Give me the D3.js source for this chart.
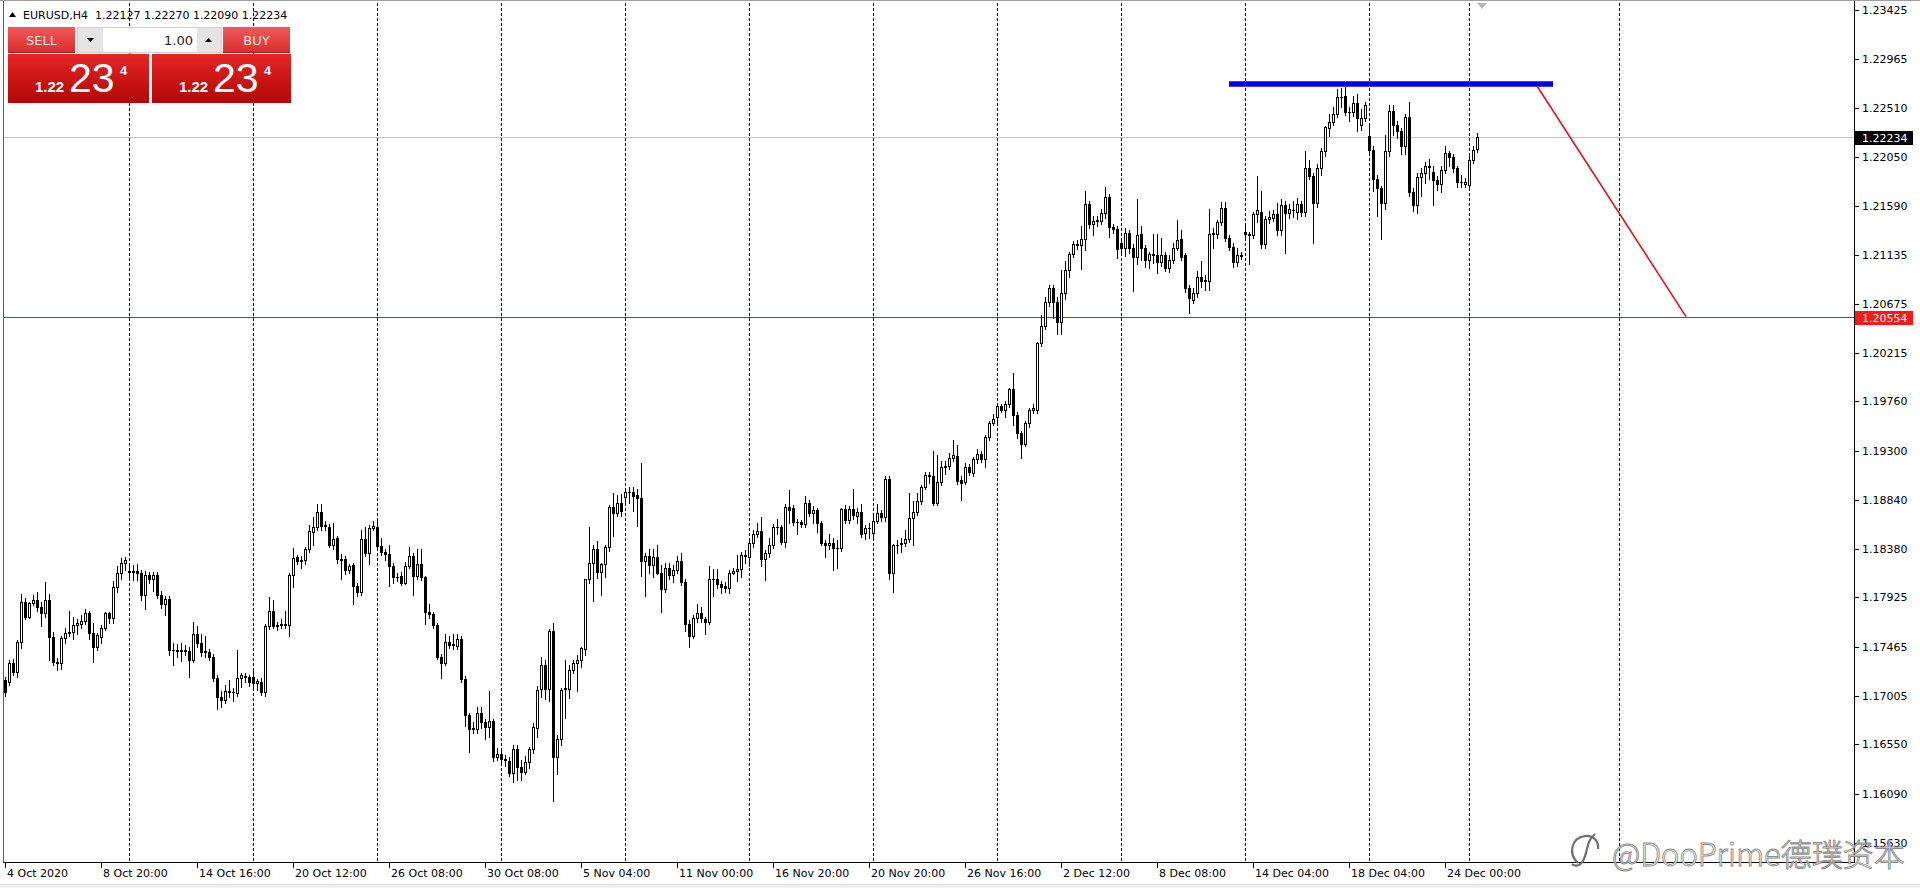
<!DOCTYPE html>
<html><head><meta charset="utf-8">
<script src="https://cdn.jsdelivr.net/npm/d3@7"></script>
<style>
html,body{margin:0;padding:0;background:#fff;overflow:hidden}
svg{display:block}
</style></head><body>
<svg id="c" width="1920" height="888"></svg>
<script>
// ---------------- data ----------------
const symbolTitle = "EURUSD,H4";
const titleOHLC = ["1.22127", "1.22270", "1.22090", "1.22234"];
const priceTicks = [1.23425,1.22965,1.22510,1.22050,1.21590,1.21135,1.20675,1.20215,1.19760,1.19300,1.18840,1.18380,1.17925,1.17465,1.17005,1.16550,1.16090,1.15630];
const xLabels = ["4 Oct 2020","8 Oct 20:00","14 Oct 16:00","20 Oct 12:00","26 Oct 08:00","30 Oct 08:00","5 Nov 04:00","11 Nov 00:00","16 Nov 20:00","20 Nov 20:00","26 Nov 16:00","2 Dec 12:00","8 Dec 08:00","14 Dec 04:00","18 Dec 04:00","24 Dec 00:00"];
const xLabelBars = [0,24,48,72,96,120,144,168,192,216,240,264,288,312,336,360];
const weekStartBars = [31,62,93,124,155,186,217,248,279,310,341,366,403.5];
const bidPrice = 1.22234;
const levelPrice = 1.20554;
const resistanceLine = [[306,1.22731],[387,1.22731]];
const projectionLine = [[383,1.22712],[420.25,1.20554]];
const panelPrice = {big:"1.22", pips:"23", frac:"4", volume:"1.00"};
const watermark = "@DooPrime德璞资本";

// [open, high, low, close] per H4 bar
const ohlc = [
[1.17152,1.17180,1.17000,1.17043],[1.17136,1.17340,1.17110,1.17308],[1.17308,1.17350,1.17200,1.17230],[1.17230,1.17530,1.17180,1.17511],
[1.17511,1.17960,1.17450,1.17885],[1.17885,1.17920,1.17720,1.17745],[1.17745,1.17880,1.17730,1.17869],[1.17869,1.17950,1.17850,1.17901],
[1.17901,1.17980,1.17800,1.17838],[1.17838,1.17880,1.17660,1.17776],[1.17776,1.18070,1.17740,1.17901],[1.17901,1.17960,1.17339,1.17557],
[1.17557,1.17600,1.17290,1.17323],[1.17323,1.17360,1.17245,1.17308],[1.17308,1.17560,1.17260,1.17542],[1.17542,1.17640,1.17500,1.17589],
[1.17589,1.17800,1.17560,1.17604],[1.17604,1.17740,1.17540,1.17667],[1.17670,1.17720,1.17580,1.17690],[1.17672,1.17760,1.17640,1.17704],
[1.17704,1.17820,1.17680,1.17776],[1.17776,1.17800,1.17540,1.17589],[1.17589,1.17690,1.17323,1.17464],[1.17464,1.17590,1.17430,1.17573],
[1.17557,1.17670,1.17500,1.17635],[1.17635,1.17790,1.17620,1.17776],[1.17776,1.17790,1.17690,1.17729],[1.17729,1.18080,1.17690,1.18025],
[1.18025,1.18220,1.17980,1.18150],[1.18150,1.18290,1.18100,1.18244],[1.18244,1.18300,1.18180,1.18275],[1.18160,1.18220,1.18100,1.18172],
[1.18172,1.18230,1.18090,1.18166],[1.18172,1.18240,1.18090,1.18150],[1.18150,1.18180,1.17900,1.17947],[1.17947,1.18170,1.17820,1.18135],
[1.18135,1.18160,1.18060,1.18094],[1.18094,1.18160,1.17990,1.18135],[1.18135,1.18160,1.17920,1.17947],[1.17947,1.17990,1.17830,1.17863],
[1.17863,1.17940,1.17760,1.17907],[1.17907,1.17940,1.17390,1.17433],[1.17433,1.17500,1.17290,1.17430],[1.17430,1.17490,1.17370,1.17426],
[1.17426,1.17500,1.17330,1.17430],[1.17430,1.17480,1.17390,1.17426],[1.17426,1.17460,1.17180,1.17339],[1.17339,1.17700,1.17320,1.17582],
[1.17582,1.17660,1.17460,1.17495],[1.17495,1.17580,1.17380,1.17417],[1.17426,1.17560,1.17370,1.17417],[1.17417,1.17440,1.17340,1.17370],
[1.17370,1.17400,1.17140,1.17167],[1.17167,1.17200,1.16880,1.16990],[1.16990,1.17050,1.16900,1.16965],[1.16965,1.17110,1.16940,1.17052],
[1.17052,1.17150,1.16990,1.17043],[1.17043,1.17080,1.16960,1.17036],[1.17027,1.17430,1.17000,1.17167],[1.17167,1.17220,1.17090,1.17199],
[1.17189,1.17220,1.17130,1.17177],[1.17177,1.17200,1.17100,1.17136],[1.17177,1.17240,1.17080,1.17121],[1.17121,1.17160,1.17060,1.17142],
[1.17136,1.17170,1.17010,1.17036],[1.17036,1.17680,1.17000,1.17657],[1.17657,1.17930,1.17630,1.17801],[1.17801,1.17900,1.17640,1.17660],
[1.17660,1.17700,1.17620,1.17667],[1.17667,1.17720,1.17640,1.17676],[1.17676,1.17800,1.17640,1.17667],[1.17667,1.18150,1.17560,1.18135],
[1.18135,1.18390,1.18020,1.18291],[1.18300,1.18320,1.18240,1.18269],[1.18269,1.18310,1.18200,1.18275],[1.18275,1.18400,1.18240,1.18375],
[1.18375,1.18600,1.18350,1.18546],[1.18540,1.18680,1.18420,1.18587],[1.18587,1.18800,1.18560,1.18721],[1.18721,1.18800,1.18560,1.18596],
[1.18596,1.18640,1.18560,1.18600],[1.18587,1.18610,1.18400,1.18415],[1.18415,1.18620,1.18380,1.18472],[1.18478,1.18500,1.18250,1.18281],
[1.18281,1.18330,1.18100,1.18275],[1.18284,1.18310,1.18140,1.18181],[1.18181,1.18240,1.18150,1.18219],[1.18228,1.18250,1.17860,1.18032],
[1.18032,1.18060,1.17940,1.17979],[1.17979,1.18560,1.17950,1.18468],[1.18468,1.18580,1.18310,1.18344],[1.18344,1.18600,1.18240,1.18571],
[1.18578,1.18640,1.18560,1.18593],[1.18582,1.18650,1.18380,1.18407],[1.18407,1.18480,1.18320,1.18354],[1.18354,1.18380,1.18280,1.18329],
[1.18329,1.18420,1.18030,1.18220],[1.18220,1.18250,1.18060,1.18114],[1.18114,1.18150,1.18080,1.18120],[1.18126,1.18160,1.18040,1.18064],
[1.18064,1.18260,1.18050,1.18220],[1.18220,1.18400,1.18200,1.18313],[1.18313,1.18340,1.17950,1.18126],[1.18126,1.18380,1.18100,1.18238],
[1.18238,1.18380,1.18090,1.18114],[1.18114,1.18130,1.17680,1.17792],[1.17792,1.17860,1.17730,1.17770],[1.17770,1.17790,1.17640,1.17667],
[1.17667,1.17690,1.17350,1.17371],[1.17371,1.17400,1.17170,1.17315],[1.17315,1.17580,1.17290,1.17511],[1.17511,1.17560,1.17450,1.17480],
[1.17480,1.17580,1.17440,1.17485],[1.17471,1.17580,1.17440,1.17533],[1.17533,1.17560,1.17130,1.17159],[1.17159,1.17190,1.16720,1.16825],
[1.16825,1.16840,1.16480,1.16691],[1.16691,1.16760,1.16660,1.16700],[1.16691,1.16900,1.16660,1.16847],[1.16847,1.16900,1.16700,1.16763],
[1.16763,1.16790,1.16600,1.16716],[1.16716,1.17050,1.16620,1.16769],[1.16769,1.16790,1.16390,1.16429],[1.16429,1.16520,1.16400,1.16460],
[1.16460,1.16500,1.16370,1.16410],[1.16410,1.16450,1.16350,1.16405],[1.16398,1.16430,1.16250,1.16285],[1.16285,1.16540,1.16200,1.16504],
[1.16504,1.16540,1.16220,1.16341],[1.16341,1.16400,1.16220,1.16295],[1.16295,1.16440,1.16270,1.16388],[1.16388,1.16530,1.16330,1.16504],
[1.16504,1.16750,1.16470,1.16710],[1.16700,1.17100,1.16620,1.17059],[1.17065,1.17370,1.16990,1.17290],[1.17290,1.17340,1.16970,1.17065],
[1.17065,1.17630,1.16960,1.17614],[1.17614,1.17689,1.16020,1.16429],[1.16429,1.16640,1.16270,1.16597],[1.16597,1.17080,1.16540,1.17059],
[1.17065,1.17340,1.16800,1.17075],[1.17065,1.17290,1.16980,1.17246],[1.17246,1.17340,1.17220,1.17315],[1.17315,1.17390,1.17050,1.17340],
[1.17340,1.17460,1.17270,1.17449],[1.17440,1.18100,1.17390,1.18095],[1.18095,1.18580,1.18060,1.18245],[1.18245,1.18420,1.17890,1.18382],
[1.18382,1.18450,1.18110,1.18160],[1.18160,1.18250,1.17950,1.18238],[1.18238,1.18420,1.18120,1.18394],[1.18394,1.18790,1.18360,1.18769],
[1.18769,1.18900,1.18500,1.18719],[1.18719,1.18880,1.18690,1.18806],[1.18806,1.18890,1.18690,1.18738],[1.18869,1.18950,1.18800,1.18915],
[1.18915,1.18960,1.18810,1.18912],[1.18915,1.18960,1.18730,1.18875],[1.18884,1.18940,1.18590,1.18853],[1.18853,1.19187,1.18130,1.18270],
[1.18270,1.18340,1.17940,1.18313],[1.18313,1.18380,1.18150,1.18229],[1.18229,1.18380,1.18120,1.18307],[1.18307,1.18420,1.18140,1.18157],
[1.18157,1.18230,1.17790,1.18001],[1.18001,1.18250,1.17980,1.18198],[1.18198,1.18250,1.18100,1.18132],[1.18132,1.18230,1.18070,1.18182],
[1.18182,1.18310,1.18150,1.18270],[1.18270,1.18340,1.18040,1.18073],[1.18073,1.18100,1.17610,1.17674],[1.17674,1.17710,1.17460,1.17568],
[1.17568,1.17760,1.17550,1.17730],[1.17730,1.17860,1.17700,1.17783],[1.17783,1.17840,1.17700,1.17730],[1.17720,1.17740,1.17580,1.17699],
[1.17699,1.18220,1.17680,1.18095],[1.18095,1.18190,1.17940,1.18100],[1.18095,1.18190,1.18010,1.18051],[1.18051,1.18080,1.17970,1.18026],
[1.18032,1.18070,1.17980,1.18011],[1.18011,1.18180,1.17970,1.18157],[1.18157,1.18200,1.18140,1.18173],[1.18173,1.18320,1.18080,1.18188],
[1.18188,1.18350,1.18120,1.18319],[1.18319,1.18370,1.18250,1.18313],[1.18306,1.18470,1.18220,1.18437],[1.18437,1.18560,1.18400,1.18519],
[1.18519,1.18620,1.18490,1.18550],[1.18550,1.18680,1.18220,1.18281],[1.18281,1.18370,1.18090,1.18344],[1.18338,1.18480,1.18300,1.18416],
[1.18416,1.18610,1.18390,1.18581],[1.18581,1.18660,1.18520,1.18587],[1.18587,1.18600,1.18430,1.18447],[1.18447,1.18800,1.18400,1.18768],
[1.18768,1.18930,1.18620,1.18743],[1.18759,1.18790,1.18600,1.18634],[1.18634,1.18660,1.18520,1.18630],[1.18634,1.18650,1.18580,1.18612],
[1.18612,1.18870,1.18580,1.18812],[1.18812,1.18840,1.18690,1.18712],[1.18712,1.18780,1.18620,1.18743],[1.18743,1.18760,1.18540,1.18618],
[1.18618,1.18640,1.18420,1.18437],[1.18437,1.18460,1.18300,1.18416],[1.18416,1.18520,1.18380,1.18431],[1.18437,1.18480,1.18180,1.18384],
[1.18384,1.18460,1.18200,1.18390],[1.18384,1.18760,1.18360,1.18749],[1.18749,1.18790,1.18620,1.18650],[1.18650,1.18780,1.18620,1.18749],
[1.18749,1.18940,1.18660,1.18696],[1.18687,1.18760,1.18620,1.18728],[1.18728,1.18800,1.18490,1.18519],[1.18531,1.18600,1.18470,1.18572],
[1.18572,1.18620,1.18480,1.18575],[1.18525,1.18700,1.18480,1.18643],[1.18643,1.18800,1.18620,1.18712],[1.18712,1.18740,1.18640,1.18675],
[1.18675,1.19060,1.18640,1.19030],[1.19030,1.19060,1.18100,1.18157],[1.18157,1.18430,1.17980,1.18416],[1.18416,1.18460,1.18340,1.18420],
[1.18425,1.18480,1.18350,1.18437],[1.18437,1.18560,1.18410,1.18468],[1.18468,1.18900,1.18440,1.18665],[1.18665,1.18830,1.18420,1.18728],
[1.18728,1.18900,1.18700,1.18831],[1.18831,1.18980,1.18800,1.18962],[1.18962,1.19100,1.18940,1.19071],[1.19071,1.19100,1.19000,1.19061],
[1.19061,1.19300,1.18790,1.18812],[1.18812,1.19260,1.18790,1.19008],[1.19008,1.19200,1.18980,1.19143],[1.19143,1.19200,1.19080,1.19155],
[1.19155,1.19280,1.19130,1.19227],[1.19227,1.19400,1.19200,1.19255],[1.19249,1.19350,1.18990,1.19018],[1.19024,1.19060,1.18840,1.18999],
[1.19008,1.19180,1.18990,1.19143],[1.19143,1.19170,1.19070,1.19102],[1.19093,1.19240,1.19060,1.19217],[1.19217,1.19310,1.19180,1.19267],
[1.19267,1.19300,1.19190,1.19217],[1.19217,1.19450,1.19150,1.19430],[1.19430,1.19580,1.19400,1.19561],[1.19561,1.19640,1.19540,1.19598],
[1.19617,1.19740,1.19560,1.19717],[1.19717,1.19740,1.19660,1.19679],[1.19679,1.19760,1.19610,1.19735],[1.19735,1.19890,1.19710,1.19876],
[1.19876,1.20030,1.19540,1.19632],[1.19632,1.19660,1.19420,1.19461],[1.19461,1.19480,1.19230,1.19361],[1.19361,1.19580,1.19340,1.19561],
[1.19561,1.19700,1.19520,1.19679],[1.19679,1.19740,1.19650,1.19695],[1.19679,1.20320,1.19650,1.20303],[1.20303,1.20570,1.20280,1.20469],
[1.20469,1.20740,1.20440,1.20693],[1.20693,1.20850,1.20650,1.20824],[1.20824,1.20850,1.20540,1.20693],[1.20693,1.20740,1.20390,1.20506],
[1.20506,1.20990,1.20390,1.20771],[1.20771,1.21070,1.20720,1.20990],[1.20990,1.21160,1.20920,1.21139],[1.21139,1.21260,1.21110,1.21233],
[1.21224,1.21270,1.21190,1.21230],[1.21224,1.21400,1.21000,1.21277],[1.21277,1.21730,1.21180,1.21607],[1.21607,1.21640,1.21380,1.21420],
[1.21420,1.21500,1.21320,1.21451],[1.21451,1.21500,1.21400,1.21455],[1.21451,1.21560,1.21420,1.21520],[1.21520,1.21770,1.21480,1.21676],
[1.21676,1.21700,1.21300,1.21395],[1.21395,1.21420,1.21340,1.21374],[1.21374,1.21400,1.21100,1.21186],[1.21239,1.21270,1.21150,1.21193],
[1.21193,1.21380,1.21120,1.21333],[1.21333,1.21360,1.21150,1.21199],[1.21199,1.21230,1.20790,1.21115],[1.21115,1.21650,1.21050,1.21317],
[1.21324,1.21400,1.21080,1.21193],[1.21193,1.21220,1.21020,1.21083],[1.21083,1.21160,1.21010,1.21136],[1.21130,1.21330,1.21060,1.21136],
[1.21130,1.21330,1.20960,1.21068],[1.21068,1.21290,1.21030,1.21130],[1.21130,1.21160,1.20980,1.21012],[1.21012,1.21130,1.20970,1.21083],
[1.21083,1.21240,1.21060,1.21199],[1.21199,1.21460,1.21180,1.21271],[1.21280,1.21360,1.21080,1.21115],[1.21130,1.21150,1.20780,1.20818],
[1.20818,1.20850,1.20585,1.20725],[1.20709,1.20820,1.20680,1.20771],[1.20771,1.20980,1.20740,1.20927],[1.20927,1.21070,1.20830,1.20887],
[1.20896,1.20940,1.20800,1.20890],[1.20887,1.21560,1.20800,1.21324],[1.21324,1.21380,1.21200,1.21333],[1.21324,1.21460,1.21290,1.21436],
[1.21436,1.21630,1.21410,1.21567],[1.21567,1.21630,1.21260,1.21292],[1.21292,1.21320,1.21180,1.21208],[1.21208,1.21240,1.21020,1.21062],
[1.21062,1.21200,1.21030,1.21130],[1.21124,1.21160,1.21090,1.21130],[1.21342,1.21420,1.21300,1.21324],[1.21324,1.21350,1.21050,1.21320],
[1.21317,1.21530,1.21290,1.21511],[1.21511,1.21870,1.21440,1.21551],[1.21536,1.21730,1.21200,1.21230],[1.21230,1.21500,1.21200,1.21467],
[1.21467,1.21540,1.21430,1.21489],[1.21480,1.21550,1.21450,1.21511],[1.21511,1.21620,1.21320,1.21364],[1.21364,1.21650,1.21320,1.21598],
[1.21598,1.21640,1.21150,1.21520],[1.21520,1.21610,1.21480,1.21561],[1.21551,1.21640,1.21490,1.21555],[1.21530,1.21660,1.21470,1.21604],
[1.21604,1.21640,1.21500,1.21530],[1.21530,1.22100,1.21500,1.21941],[1.21948,1.22020,1.21840,1.21873],[1.21873,1.21900,1.21240,1.21614],
[1.21614,1.21980,1.21580,1.21948],[1.21948,1.22130,1.21880,1.22104],[1.22104,1.22340,1.22060,1.22325],[1.22316,1.22450,1.22240,1.22372],
[1.22372,1.22520,1.22350,1.22447],[1.22447,1.22680,1.22420,1.22612],[1.22612,1.22690,1.22520,1.22610],[1.22622,1.22700,1.22440,1.22472],
[1.22466,1.22520,1.22380,1.22470],[1.22466,1.22620,1.22430,1.22550],[1.22550,1.22640,1.22290,1.22416],[1.22347,1.22500,1.22300,1.22409],
[1.22409,1.22560,1.22380,1.22534],[1.22247,1.22340,1.22080,1.22113],[1.22113,1.22150,1.21730,1.21842],[1.21842,1.21880,1.21500,1.21754],
[1.21754,1.21780,1.21280,1.21614],[1.21614,1.22250,1.21560,1.22104],[1.22104,1.22530,1.22060,1.22478],[1.22478,1.22530,1.22250,1.22347],
[1.22347,1.22380,1.22230,1.22291],[1.22291,1.22320,1.22080,1.22154],[1.22154,1.22450,1.22080,1.22425],[1.22425,1.22560,1.21680,1.21723],
[1.21723,1.21760,1.21540,1.21598],[1.21598,1.21900,1.21520,1.21863],[1.21863,1.21940,1.21680,1.21895],[1.21895,1.22000,1.21800,1.21966],
[1.21957,1.22030,1.21840,1.21966],[1.21904,1.21960,1.21600,1.21832],[1.21832,1.21870,1.21740,1.21792],[1.21792,1.21960,1.21720,1.21926],
[1.21926,1.22150,1.21900,1.22082],[1.22082,1.22100,1.21960,1.22051],[1.22051,1.22080,1.21910,1.21941],[1.21941,1.21960,1.21770,1.21810],
[1.21810,1.21880,1.21770,1.21815],[1.21792,1.21850,1.21770,1.21817],[1.21785,1.22060,1.21760,1.22019],[1.22019,1.22150,1.21990,1.22113],
[1.22127,1.22270,1.22090,1.22234]
];

// ---------------- layout ----------------
const W = 1920, H = 888;
const plotL = 4, plotR = 1854, plotT = 3, plotB = 862;
const FONT = "'DejaVu Sans', Tahoma, sans-serif";

const svg = d3.select("#c");
const x = d3.scaleLinear().domain([0, ohlc.length - 1]).range([5, 5 + 4 * (ohlc.length - 1)]);
const y = d3.scaleLinear().domain([1.15449, 1.23489]).range([plotB, plotT]);

svg.append("rect").attr("width", W).attr("height", H).attr("fill", "#fff");

const defs = svg.append("defs");
defs.append("clipPath").attr("id", "plotClip").append("rect")
  .attr("x", plotL).attr("y", plotT).attr("width", plotR - plotL).attr("height", plotB - plotT);

const plot = svg.append("g").attr("clip-path", "url(#plotClip)");

// vertical weekly grid
plot.append("g").selectAll("line").data(weekStartBars).join("line")
  .attr("x1", d => Math.round(x(d)) + 0.5).attr("x2", d => Math.round(x(d)) + 0.5)
  .attr("y1", plotT).attr("y2", plotB)
  .attr("stroke", "#000").attr("stroke-width", 1).attr("stroke-dasharray", "3,2");

// bid line
plot.append("line").attr("x1", plotL).attr("x2", plotR)
  .attr("y1", Math.round(y(bidPrice)) + 0.5).attr("y2", Math.round(y(bidPrice)) + 0.5)
  .attr("stroke", "#c0c0c0").attr("stroke-width", 1);

// horizontal level
plot.append("line").attr("x1", plotL).attr("x2", plotR)
  .attr("y1", Math.round(y(levelPrice)) + 0.5).attr("y2", Math.round(y(levelPrice)) + 0.5)
  .attr("stroke", "#d8182c").attr("stroke-width", 1);

// candles
const bars = ohlc.map((d, i) => ({i, o: d[0], h: d[1], l: d[2], c: d[3]}));
const cg = plot.append("g");
cg.selectAll("line.wick").data(bars).join("line").attr("class", "wick")
  .attr("x1", d => Math.round(x(d.i)) + 0.5).attr("x2", d => Math.round(x(d.i)) + 0.5)
  .attr("y1", d => Math.round(y(d.h))).attr("y2", d => Math.round(y(d.l)) + 1)
  .attr("stroke", "#000").attr("stroke-width", 1);
cg.selectAll("rect.body").data(bars).join("rect").attr("class", "body")
  .attr("x", d => Math.round(x(d.i)) - 0.5)
  .attr("y", d => Math.round(y(Math.max(d.o, d.c))) + 0.5)
  .attr("width", 2)
  .attr("height", d => Math.max(0.01, Math.round(y(Math.min(d.o, d.c))) - Math.round(y(Math.max(d.o, d.c)))))
  .attr("fill", d => d.c >= d.o ? "#fff" : "#000")
  .attr("stroke", "#000").attr("stroke-width", 1);

// resistance (blue) and projection (red) lines
const lineGen = d3.line().x(d => x(d[0])).y(d => y(d[1]));
svg.append("path").attr("d", lineGen(resistanceLine))
  .attr("stroke", "#0000e6").attr("stroke-width", 5.5).attr("fill", "none").attr("stroke-linecap", "butt");
svg.append("path").attr("d", lineGen(projectionLine))
  .attr("stroke", "#e3141e").attr("stroke-width", 1.6).attr("fill", "none");

// shift marker
svg.append("path").attr("d", "M1477,3 L1487,3 L1482,9 Z").attr("fill", "#b4b4b4");

// frame
svg.append("line").attr("x1", 0).attr("x2", W).attr("y1", 0.5).attr("y2", 0.5).attr("stroke", "#a0a0a0");
svg.append("line").attr("x1", 3.5).attr("x2", 3.5).attr("y1", 1).attr("y2", plotB).attr("stroke", "#606060").attr("stroke-width", 1);
svg.append("line").attr("x1", plotR + 0.5).attr("x2", plotR + 0.5).attr("y1", 1).attr("y2", plotB + 1).attr("stroke", "#000");
svg.append("line").attr("x1", 3).attr("x2", plotR + 1).attr("y1", plotB + 0.5).attr("y2", plotB + 0.5).attr("stroke", "#000");
svg.append("rect").attr("x", 0).attr("y", 884).attr("width", W).attr("height", 4).attr("fill", "#f0f0f0");
svg.append("line").attr("x1", 0).attr("x2", W).attr("y1", 884.5).attr("y2", 884.5).attr("stroke", "#dcdcdc");

// right price axis
const ya = svg.append("g");
ya.selectAll("line").data(priceTicks).join("line")
  .attr("x1", plotR + 1).attr("x2", plotR + 5)
  .attr("y1", d => Math.round(y(d)) + 0.5).attr("y2", d => Math.round(y(d)) + 0.5)
  .attr("stroke", "#000");
ya.selectAll("text").data(priceTicks).join("text")
  .attr("x", 1862).attr("y", d => y(d) + 4)
  .attr("font-family", FONT).attr("font-size", 11).attr("fill", "#000")
  .text(d => d.toFixed(5));

function priceBox(p, bg) {
  const yy = Math.round(y(p)) + 1;
  svg.append("rect").attr("x", 1855).attr("y", yy - 7).attr("width", 58).attr("height", 14).attr("fill", bg);
  svg.append("text").attr("x", 1862).attr("y", yy + 4)
    .attr("font-family", FONT).attr("font-size", 11).attr("fill", "#fff").text(p.toFixed(5));
}
priceBox(bidPrice, "#000");
priceBox(levelPrice, "#f41a1a");

// bottom time axis
const xa = svg.append("g");
xa.selectAll("line").data(xLabelBars).join("line")
  .attr("x1", d => Math.round(x(d)) + 0.5).attr("x2", d => Math.round(x(d)) + 0.5)
  .attr("y1", plotB + 1).attr("y2", plotB + 6).attr("stroke", "#000");
xa.selectAll("text").data(xLabels).join("text")
  .attr("x", (d, i) => Math.round(x(xLabelBars[i])) + 2).attr("y", 877)
  .attr("font-family", FONT).attr("font-size", 11).attr("fill", "#000")
  .text(d => d);

// ---------------- title + one-click panel ----------------
svg.append("path").attr("d", "M9,17 L16,17 L12.5,12 Z").attr("fill", "#000");
svg.append("text").attr("x", 23).attr("y", 19).attr("font-family", FONT).attr("font-size", 11)
  .attr("fill", "#000").style("white-space", "pre")
  .text(symbolTitle + "  " + titleOHLC.join(" "));

const gHead = defs.append("linearGradient").attr("id", "gHead").attr("x1", 0).attr("x2", 0).attr("y1", 0).attr("y2", 1);
gHead.append("stop").attr("offset", "0%").attr("stop-color", "#f25a5a");
gHead.append("stop").attr("offset", "100%").attr("stop-color", "#dc2c2c");
const gBig = defs.append("linearGradient").attr("id", "gBig").attr("x1", 0).attr("x2", 0).attr("y1", 0).attr("y2", 1);
gBig.append("stop").attr("offset", "0%").attr("stop-color", "#e42626");
gBig.append("stop").attr("offset", "100%").attr("stop-color", "#b30606");

const panel = svg.append("g");
function headBtn(x0, w, label) {
  panel.append("rect").attr("x", x0).attr("y", 27).attr("width", w).attr("height", 26).attr("fill", "url(#gHead)");
  panel.append("line").attr("x1", x0).attr("x2", x0 + w).attr("y1", 52.5).attr("y2", 52.5).attr("stroke", "#b41818");
  panel.append("text").attr("x", x0 + w / 2).attr("y", 45).attr("text-anchor", "middle")
    .attr("font-family", FONT).attr("font-size", 13).attr("fill", "#fce6e6").text(label);
}
headBtn(8, 67, "SELL");
headBtn(223, 67, "BUY");

// volume control
panel.append("rect").attr("x", 77.5).attr("y", 27.5).attr("width", 144).attr("height", 25).attr("fill", "#e4e4e4").attr("stroke", "#cfcfcf");
panel.append("rect").attr("x", 103).attr("y", 28).attr("width", 94).attr("height", 24).attr("fill", "#fff");
panel.append("path").attr("d", "M87,38 L94,38 L90.5,42 Z").attr("fill", "#000");
panel.append("path").attr("d", "M205,42 L212,42 L208.5,38 Z").attr("fill", "#000");
panel.append("text").attr("x", 193).attr("y", 45).attr("text-anchor", "end")
  .attr("font-family", FONT).attr("font-size", 13).attr("fill", "#222").text(panelPrice.volume);

function bigBox(x0, w) {
  panel.append("rect").attr("x", x0).attr("y", 54).attr("width", w).attr("height", 49).attr("fill", "url(#gBig)");
  panel.append("text").attr("x", x0 + 27).attr("y", 92).attr("font-family", "'Liberation Sans', Arial, sans-serif")
    .attr("font-weight", "bold").attr("font-size", 15).attr("fill", "#fff").text(panelPrice.big);
  panel.append("text").attr("x", x0 + 61).attr("y", 92).attr("font-family", "'Liberation Sans', Arial, sans-serif")
    .attr("font-size", 41).attr("fill", "#fff").text(panelPrice.pips);
  panel.append("text").attr("x", x0 + 112).attr("y", 75).attr("font-family", "'Liberation Sans', Arial, sans-serif")
    .attr("font-weight", "bold").attr("font-size", 13).attr("fill", "#fff").text(panelPrice.frac);
}
bigBox(8, 141);
bigBox(152, 139);

// ---------------- watermark ----------------
const wm = svg.append("g");
wm.append("path")
  .attr("d", "M1578,863 C1568,854 1571,838 1585,836 C1594,835 1599,842 1598,849 M1595,834 C1586,841 1588,852 1583,861 C1580,866 1575,867 1572,864")
  .attr("fill", "none").attr("stroke", "#6e6e6e").attr("stroke-width", 2.2);
wm.append("text").attr("x", 1612).attr("y", 866)
  .attr("font-family", "'Noto Sans CJK SC', 'Noto Sans', sans-serif").attr("font-weight", 300).attr("font-size", 31)
  .attr("fill", "rgba(255,255,255,0.93)").attr("stroke", "#8a8a8a").attr("stroke-width", 0.9)
  .text(watermark);
</script>
</body></html>
